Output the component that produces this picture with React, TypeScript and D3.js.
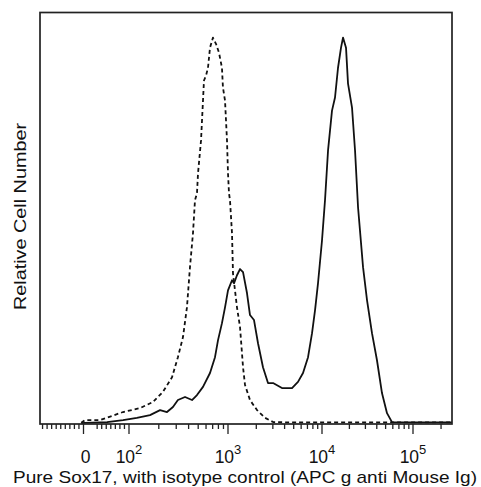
import React from 'react';
import * as d3 from 'd3';

// fluorescence values (APC) and relative counts (% of max)
const isotypeX = [-5, 3, 36, 87, 129, 175, 220, 272, 312, 351, 385, 413, 443, 464, 486, 498, 534, 559, 572, 600, 628, 658, 705, 756, 811, 869, 889, 933, 977, 1000, 1025, 1050, 1103, 1130, 1246, 1342, 1445, 1517, 1714, 2036, 2479, 3015, 5000, 20000, 100000, 262144];
const isotypeCount = [0.3, 1.0, 1.0, 3.1, 4.1, 5.7, 8.3, 12.1, 17.3, 22.5, 30.2, 40.6, 49.4, 57.9, 59.7, 64.9, 73.4, 83.7, 88.9, 90.2, 92.2, 97.4, 100, 98.4, 96.1, 92.2, 87.1, 83.7, 73.4, 64.9, 59.7, 57.9, 49.4, 39.0, 30.2, 25.1, 14.7, 10.1, 6.2, 3.6, 1.6, 0.5, 0.4, 0.4, 0.4, 0.4];

const sox17X = [-5, 3, 52, 87, 120, 163, 206, 242, 278, 312, 368, 433, 486, 559, 658, 739, 793, 869, 933, 1000, 1103, 1158, 1246, 1342, 1445, 1592, 1714, 1891, 2086, 2356, 2664, 3015, 3750, 4797, 5555, 6282, 7104, 7834, 8434, 9066, 10000, 10790, 11650, 12880, 13900, 15000, 16180, 17020, 18360, 19320, 21370, 23070, 24890, 28250, 31260, 35430, 40190, 45610, 51800, 58750, 100000, 262144];
const sox17Count = [0.2, 0.3, 0.5, 1.0, 1.6, 2.3, 3.6, 3.1, 4.4, 6.2, 7.0, 6.2, 7.5, 9.6, 13.2, 17.3, 21.7, 26.1, 30.2, 34.6, 37.2, 36.4, 38.5, 40.1, 39.3, 33.9, 28.2, 26.9, 20.9, 14.7, 10.6, 10.6, 9.3, 9.3, 10.9, 13.2, 17.3, 23.5, 29.5, 36.4, 47.5, 57.9, 70.8, 81.1, 84.5, 92.2, 97.4, 100, 97.4, 88.1, 81.9, 70.8, 56.1, 40.6, 32.0, 23.5, 16.5, 8.0, 2.8, 0.5, 0.4, 0.4];

const majorTicks = [0, 100, 1000, 10000, 100000];
const majorLabels = ['0', '2', '3', '4', '5'];
const minorTicks = [
  -90, -80, -70, -60, -50, -40, -30, -20, -10,
  30, 40, 50, 60, 70, 80, 90,
  200, 300, 400, 500, 600, 700, 800, 900,
  2000, 3000, 4000, 5000, 6000, 7000, 8000, 9000,
  20000, 30000, 40000, 50000, 60000, 70000, 80000, 90000,
  200000,
];

const W = 481;
const H = 487;
const left = 40;
const right = 452;
const top = 12.5;
const bottom = 424;

export default function App() {
  // biexponential-like axis: linear around zero, log above 10^2
  const xLin = d3.scaleLinear().domain([-100, 100]).range([38, 129]);
  const xLog = d3.scaleLog()
    .domain([100, 1000, 10000, 100000, 262144])
    .range([129, 228, 322, 413, 452]);
  const x = (v: number) => (v <= 100 ? xLin(v) : xLog(v));
  const y = d3.scaleLinear().domain([0, 106.5]).range([bottom, top]);

  const line = d3.line<[number, number]>()
    .x(d => x(d[0]))
    .y(d => y(d[1]));

  const isoPath = line(isotypeX.map((v, i) => [v, isotypeCount[i]]) as [number, number][]);
  const soxPath = line(sox17X.map((v, i) => [v, sox17Count[i]]) as [number, number][]);

  const font = 'Liberation Sans, Arial, sans-serif';

  return (
    <svg width={W} height={H} style={{ position: 'absolute', left: 0, top: 0, background: '#fff' }}>
      <defs>
        <clipPath id="plot">
          <rect x={left} y={top} width={right - left} height={bottom - top} />
        </clipPath>
      </defs>

      <g clipPath="url(#plot)" fill="none" stroke="#111" strokeWidth={1.8} strokeLinejoin="round">
        <path d={isoPath || ''} strokeDasharray="4 3" />
        <path d={soxPath || ''} />
      </g>

      <rect x={left} y={top} width={right - left} height={bottom - top} fill="none" stroke="#222" strokeWidth={1.7} />

      {/* ticks */}
      <g stroke="#222" strokeWidth={1.3}>
        {minorTicks.map(t => (
          <line key={'m' + t} x1={x(t)} x2={x(t)} y1={bottom} y2={bottom + 5} />
        ))}
        {majorTicks.map(t => (
          <line key={'M' + t} x1={x(t)} x2={x(t)} y1={bottom} y2={bottom + 10} />
        ))}
      </g>

      <g fontFamily={font} fill="#111" textAnchor="middle">
        {majorTicks.map((t, i) =>
          i === 0 ? (
            <text key={'l' + t} x={x(t) + 2} y={463} fontSize={17.5}>0</text>
          ) : (
            <text key={'l' + t} x={x(t)} y={463} fontSize={17.5}>
              10<tspan fontSize={13} dy={-9}>{majorLabels[i]}</tspan>
            </text>
          )
        )}
        <text x={245} y={483} fontSize={17} textLength={464} lengthAdjust="spacingAndGlyphs">
          Pure Sox17, with isotype control (APC g anti Mouse Ig)
        </text>
        <text transform="translate(26,216.5) rotate(-90)" fontSize={17} textLength={187} lengthAdjust="spacingAndGlyphs">
          Relative Cell Number
        </text>
      </g>
    </svg>
  );
}
